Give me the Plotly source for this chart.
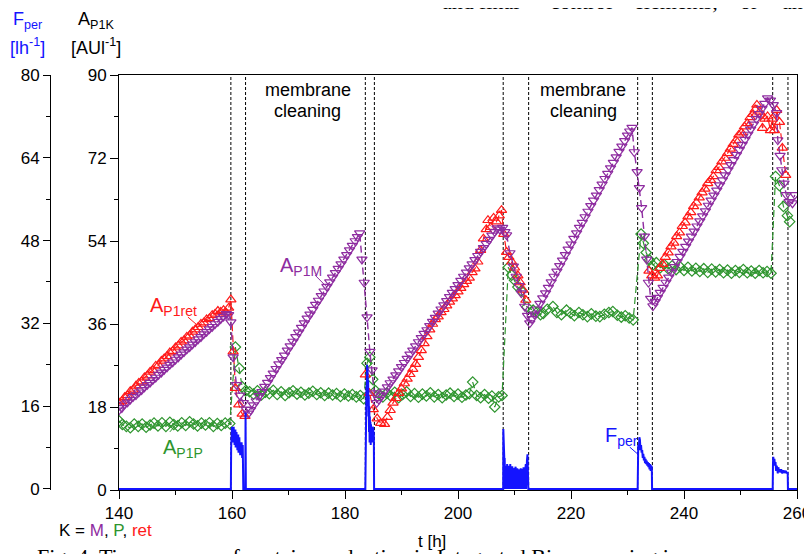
import plotly.graph_objects as go

# ---------------- data ----------------
# A_P1M (membrane), purple, inverted triangles
t_M = [140.0, 140.5, 141.0, 141.5, 142.0, 142.5, 143.0, 143.5, 144.0, 144.5, 145.0, 145.5, 146.0, 146.5,
       147.0, 147.5, 148.0, 148.5, 149.0, 149.5, 150.0, 150.5, 151.0, 151.5, 152.0, 152.5, 153.0, 153.5,
       154.0, 154.5, 155.0, 155.5, 156.0, 156.5, 157.0, 157.5, 158.0, 158.5, 159.0, 159.4, 159.8, 160.2,
       160.8, 161.4, 162.0, 162.5, 162.9,
       163.3, 163.8, 164.3, 164.8, 165.3, 165.8, 166.3, 166.8, 167.3, 167.8, 168.3, 168.8, 169.3, 169.8,
       170.3, 170.8, 171.3, 171.8, 172.3, 172.8, 173.3, 173.8, 174.3, 174.8, 175.3, 175.8, 176.3, 176.8,
       177.3, 177.8, 178.3, 178.8, 179.3, 179.8, 180.3, 180.8, 181.3, 181.8, 182.2, 182.6, 183.0, 183.4,
       183.9, 184.4, 184.8, 185.2, 185.6,
       186.0, 186.5, 187.0, 187.5, 188.0, 188.5, 189.0, 189.5, 190.0, 190.5, 191.0, 191.5, 192.0, 192.5,
       193.0, 193.5, 194.0, 194.5, 195.0, 195.5, 196.0, 196.5, 197.0, 197.5, 198.0, 198.5, 199.0, 199.5,
       200.0, 200.5, 201.0, 201.5, 202.0, 202.5, 203.0, 203.5, 204.0, 204.5, 205.0, 205.5, 206.0, 206.5,
       206.9, 207.4, 207.9, 208.3, 208.6, 209.2, 209.8, 210.3, 210.8, 211.2, 211.8, 212.3, 212.7,
       213.1, 213.5, 214.0, 214.5, 215.0, 215.5, 216.0, 216.5, 217.0, 217.5, 218.0, 218.5, 219.0, 219.5,
       220.0, 220.5, 221.0, 221.5, 222.0, 222.5, 223.0, 223.5, 224.0, 224.5, 225.0, 225.5, 226.0, 226.5,
       227.0, 227.5, 228.0, 228.5, 229.0, 229.5, 230.0, 230.4, 230.8, 231.2, 231.7, 232.1, 232.5, 233.0,
       233.4, 233.7, 234.1, 234.5,
       234.9, 235.3, 235.8, 236.3, 236.8, 237.3, 237.8, 238.3, 238.8, 239.3, 239.8, 240.3, 240.8, 241.3,
       241.8, 242.3, 242.8, 243.3, 243.8, 244.3, 244.8, 245.3, 245.8, 246.3, 246.8, 247.3, 247.8, 248.3,
       248.8, 249.3, 249.8, 250.3, 250.8, 251.3, 251.8, 252.3, 252.8, 253.3, 253.8, 254.3, 254.8, 255.3,
       255.8, 256.4, 256.6, 257.0, 257.3, 257.7, 258.1, 258.6, 259.2, 259.6]
A_M = [17.3, 17.8, 18.6, 19.0, 19.6, 20.2, 20.6, 21.2, 21.7, 22.3, 22.8, 23.3, 23.9, 24.4,
       25.0, 25.5, 26.1, 26.6, 27.2, 27.7, 28.3, 28.8, 29.4, 29.9, 30.5, 31.0, 31.6, 32.1,
       32.7, 33.2, 33.8, 34.3, 34.9, 35.4, 36.0, 36.5, 37.1, 37.6, 38.2, 38.0, 36.4, 28.8,
       22.8, 20.5, 18.9, 17.5, 16.6,
       17.4, 18.4, 19.3, 20.4, 21.3, 22.4, 23.3, 24.3, 25.3, 26.3, 27.3, 28.2, 29.2, 30.3,
       31.2, 32.2, 33.2, 34.2, 35.2, 36.2, 37.2, 38.1, 39.1, 40.2, 41.1, 42.1, 43.1, 44.1,
       45.1, 46.1, 47.1, 48.0, 49.0, 50.0, 51.0, 52.0, 53.0, 54.0, 54.9, 55.7, 50.0, 45.0,
       37.5, 30.0, 26.0, 21.0, 18.9,
       19.6, 20.5, 21.4, 22.3, 23.2, 24.0, 24.9, 25.8, 26.7, 27.6, 28.5, 29.4, 30.3, 31.2,
       32.1, 33.0, 33.9, 34.7, 35.6, 36.5, 37.4, 38.3, 39.2, 40.1, 41.0, 41.9, 42.8, 43.6,
       44.5, 45.4, 46.3, 47.2, 48.1, 49.0, 49.9, 50.8, 51.7, 52.5, 53.4, 54.3, 55.2, 56.0,
       56.8, 56.5, 56.9, 56.0, 55.3, 51.4, 48.5, 46.3, 44.3, 42.7, 39.8, 37.8, 36.2,
       37.1, 38.1, 39.2, 40.4, 41.6, 42.7, 43.9, 45.1, 46.3, 47.4, 48.6, 49.8, 51.0, 52.2,
       53.3, 54.5, 55.7, 56.9, 58.0, 59.2, 60.4, 61.6, 62.8, 63.9, 65.1, 66.3, 67.5, 68.6,
       69.8, 71.0, 72.2, 73.4, 74.5, 75.7, 76.9, 77.8, 78.6, 73.3, 69.0, 65.5, 61.2, 55.0,
       50.0, 45.0, 41.5, 39.9,
       40.8, 41.7, 42.8, 43.9, 45.0, 46.1, 47.2, 48.4, 49.5, 50.6, 51.7, 52.8, 53.9, 55.0,
       56.1, 57.2, 58.3, 59.4, 60.5, 61.7, 62.8, 63.9, 65.0, 66.1, 67.2, 68.3, 69.4, 70.5,
       71.6, 72.7, 73.8, 74.9, 76.0, 77.1, 78.2, 79.3, 80.5, 81.6, 82.7, 83.8, 85.0, 84.5,
       83.5, 81.8, 75.9, 72.5, 69.4, 66.5, 64.0, 62.5, 62.2, 64.0]

# A_P1ret (retentate), red, triangles (None = no measurement)
t_ret = [140.0, 140.5, 141.0, 141.5, 142.0, 142.5, 143.0, 143.5, 144.0, 144.5, 145.0, 145.5, 146.0, 146.5,
         147.0, 147.5, 148.0, 148.5, 149.0, 149.5, 150.0, 150.5, 151.0, 151.5, 152.0, 152.5, 153.0, 153.5,
         154.0, 154.5, 155.0, 155.5, 156.0, 156.5, 157.0, 157.5, 158.0, 158.5, 159.0, 159.4, 159.8, 160.2,
         160.6, 161.2, 161.8, 162.3, 173.0,
         183.6, 184.3, 185.0, 185.7, 186.3, 187.0, 187.5, 188.0, 188.5, 189.0, 189.5, 190.0, 190.5, 191.0,
         191.5, 192.0, 192.5, 193.0, 193.5, 194.0, 194.5, 195.0, 195.5, 196.0, 196.5, 197.0, 197.5, 198.0,
         198.5, 199.0, 199.5, 200.0, 200.5, 201.0, 201.5, 202.0, 202.5, 203.0, 203.5, 204.0, 204.5, 205.0,
         205.3, 205.8, 206.3, 206.8, 207.3, 207.7, 208.1, 208.6, 209.0, 209.5, 210.0, 210.6, 211.0, 211.5,
         212.0, 222.0,
         233.8, 234.3, 234.8, 235.3, 235.7, 236.2, 236.7, 237.2, 237.7, 238.2, 238.7, 239.2, 239.7, 240.2,
         240.7, 241.2, 241.7, 242.2, 242.7, 243.2, 243.7, 244.2, 244.7, 245.2, 245.7, 246.2, 246.7, 247.2,
         247.7, 248.2, 248.7, 249.2, 249.7, 250.2, 250.7, 251.2, 251.7, 252.2, 252.6, 252.9, 253.4, 253.9,
         254.3, 254.8, 255.3, 255.6, 256.0, 256.4, 256.9, 257.4, 258.0]
A_ret = [18.9, 19.2, 20.1, 20.5, 21.4, 21.7, 22.6, 23.2, 23.5, 24.4, 24.8, 25.6, 26.0, 26.9,
         27.1, 28.0, 28.5, 29.0, 29.8, 30.1, 30.9, 31.3, 32.1, 32.4, 33.2, 33.5, 34.3, 34.8,
         35.3, 36.0, 36.3, 37.0, 37.2, 37.9, 38.2, 38.8, 38.6, 39.0, 38.4, 39.5, 41.3, 30.0,
         22.1, 18.5, 16.5, 16.0, None,
         25.0, 21.0, 17.5, 15.5, 14.5, 14.3, 15.8, 17.3, 18.9, 19.9, 21.0, 22.0, 23.1, 24.1,
         25.1, 26.2, 27.3, 28.8, 30.3, 31.8, 33.3, 34.8, 36.0, 37.0, 37.6, 38.5, 39.2, 40.0,
         40.8, 41.5, 42.2, 43.0, 43.8, 44.6, 45.3, 46.0, 47.2, 48.0, 49.5, 52.0, 54.5, 56.5,
         58.5, 57.0, 59.0, 58.2, 59.5, 60.7, 55.5, 51.6, 50.5, 49.5, 48.2, 46.5, 45.0, 43.4,
         41.2, None,
         47.5, 46.5, 46.0, 46.5, 48.1, 49.0, 50.5, 51.5, 52.8, 53.6, 55.0, 55.8, 57.2, 58.0,
         59.3, 60.2, 61.5, 62.3, 63.4, 64.5, 65.3, 66.5, 67.2, 68.0, 69.3, 70.0, 71.2, 72.0,
         73.0, 74.0, 75.0, 75.8, 77.0, 77.5, 78.8, 79.5, 80.8, 81.5, 82.5, 83.5, 82.0, 78.5,
         80.5, 81.0, 78.0, 80.5, 78.0, 82.4, 79.8, 74.2, 68.3]

# A_P1P (permeate), green, diamonds
t_P = [140.0, 140.6, 141.3, 142.0, 142.7, 143.4, 144.1, 144.8, 145.5, 146.2, 146.9, 147.6, 148.3, 149.0,
       149.7, 150.4, 151.1, 151.8, 152.5, 153.2, 153.9, 154.6, 155.3, 156.0, 156.7, 157.4, 158.1, 158.8,
       159.6, 160.6, 161.3, 161.8, 162.4, 163.1,
       163.8, 164.5, 165.2, 165.9, 166.6, 167.3, 168.0, 168.7, 169.4, 170.1, 170.8, 171.5, 172.2, 172.9,
       173.6, 174.3, 175.0, 175.7, 176.4, 177.1, 177.8, 178.5, 179.2, 179.9, 180.6, 181.3, 182.0, 182.7,
       183.3, 183.9, 184.4, 184.9, 185.4,
       186.0, 186.7, 187.4, 188.1, 188.8, 189.5, 190.2, 190.9, 191.6, 192.3, 193.0, 193.7, 194.4, 195.1,
       195.8, 196.5, 197.2, 197.9, 198.6, 199.3, 200.0, 200.7, 201.4, 202.0, 202.6, 203.3, 204.0, 204.7,
       205.4, 206.0, 206.5, 207.2, 207.8,
       208.9, 209.5, 210.0, 210.6, 211.2, 212.2, 213.3, 214.0, 214.6, 215.1, 215.8, 216.8, 217.5, 218.3,
       219.2, 219.9, 220.6, 221.4, 222.1, 222.9, 223.6, 224.4, 225.1, 225.9, 226.7, 227.4, 228.2, 228.9,
       229.6, 230.3, 231.0,
       232.4, 232.8, 233.3, 233.9, 234.5, 235.1, 235.8, 236.5, 237.2, 237.9, 238.6, 239.3, 240.0, 240.7,
       241.4, 242.1, 242.8, 243.5, 244.2, 244.9, 245.6, 246.3, 247.0, 247.7, 248.4, 249.1, 249.8, 250.5,
       251.2, 251.9, 252.6, 253.3, 254.0, 254.7, 255.4, 256.2, 256.9, 257.6, 258.3, 258.7]
A_P = [15.0, 14.2, 13.8, 13.5, 14.3, 13.8, 14.3, 13.6, 14.1, 14.5, 13.9, 14.6, 13.8, 14.7,
       14.2, 13.9, 14.6, 14.0, 14.8, 14.3, 13.9, 14.5, 14.1, 14.6, 13.8, 14.4, 14.0, 14.5,
       14.4, 31.0, 26.4, 22.4, 21.5, 21.3,
       20.8, 21.5, 20.6, 21.2, 20.9, 21.6, 20.7, 21.3, 20.5, 21.1, 21.5, 20.8, 21.2, 20.6,
       21.0, 21.4, 20.7, 21.1, 20.5, 21.0, 20.6, 20.9, 20.3, 20.8, 20.4, 20.7, 20.2, 20.5,
       19.8, 27.5, 28.8, 24.0, 21.5,
       20.8, 20.2, 21.0, 20.4, 21.2, 20.0, 20.7, 21.3, 20.3, 20.9, 20.1, 20.8, 20.4, 21.1,
       20.2, 20.7, 20.0, 20.6, 21.0, 20.3, 20.8, 20.1, 20.6, 20.9, 23.4, 20.5, 20.0, 20.7,
       19.9, 20.4, 18.0, 20.2, 20.5,
       48.3, 46.6, 45.5, 44.0, 43.2, 39.7, 39.0, 38.6, 38.0, 38.3, 39.2, 39.8, 38.5, 38.0,
       39.0, 38.4, 37.8, 38.5, 38.0, 37.6, 38.2, 37.7, 37.6, 38.1, 38.5, 38.7, 37.9, 37.5,
       37.8, 37.3, 36.9,
       55.5, 53.5, 51.5, 49.9, 48.8, 49.3, 48.2, 48.9, 48.0, 48.6, 47.8, 48.4, 47.6, 48.3,
       47.5, 48.1, 47.4, 48.0, 47.2, 47.9, 47.3, 47.8, 47.1, 47.7, 47.0, 47.6, 47.2, 47.8,
       47.1, 47.5, 47.0, 47.6, 47.1, 47.4, 47.0, 68.0, 66.0, 61.5, 59.5, 58.2]

# F_per (permeate flux), blue line, right-hand scale 0..80
t_F = [140.0, 159.8, 159.85, 159.9, 159.95, 160.0, 160.05, 160.1, 160.15, 160.2, 160.25, 160.3, 160.35,
       160.4, 160.45, 160.5, 160.55, 160.6, 160.65, 160.7, 160.75, 160.8, 160.85, 160.9, 160.95, 161.0,
       161.05, 161.1, 161.15, 161.2, 161.25, 161.3, 161.35, 161.4, 161.45, 161.5, 161.6, 161.7, 161.8,
       161.9, 162.0, 162.35, 162.4, 162.45,
       183.6, 183.65, 183.7, 183.75, 183.8, 183.85, 183.9, 183.95, 184.0, 184.05, 184.1, 184.15, 184.2,
       184.25, 184.3, 184.35, 184.4, 184.45, 184.5, 184.55, 184.6, 184.65, 184.7, 184.75, 184.8, 184.85,
       184.9, 184.95, 185.0, 185.05, 185.1, 185.15,
       208.0, 208.02, 208.06, 208.1, 208.14, 208.18, 208.22, 208.26, 208.3, 208.34, 208.38, 208.45, 208.5,
       208.55, 208.6, 208.7, 208.75, 208.8, 208.85, 208.95, 209.05, 209.1, 209.15, 209.25, 209.3, 209.35,
       209.4, 209.5, 209.6, 209.65, 209.7, 209.8, 209.9, 209.95, 210.0, 210.1, 210.2, 210.25, 210.3,
       210.4, 210.5, 210.55, 210.6, 210.7, 210.8, 210.85, 210.9, 211.0, 211.1, 211.15, 211.2, 211.3,
       211.4, 211.45, 211.5, 211.6, 211.7, 211.75, 211.8, 211.9, 212.0, 212.05, 212.1, 212.2, 212.3,
       212.35, 212.4, 212.45,
       231.8, 231.85, 231.9, 232.0, 232.1, 232.15, 232.2, 232.3, 232.4, 232.5, 232.6, 232.7, 232.8,
       232.9, 233.0, 233.1, 233.2, 233.3, 233.4, 233.5, 233.6, 233.7, 233.8, 233.9, 234.0, 234.1, 234.2,
       234.3, 234.35,
       255.7, 255.75, 255.8, 255.9, 256.0, 256.1, 256.2, 256.3, 256.4, 256.5, 256.6, 256.7, 256.8, 256.9,
       257.0, 257.2, 257.4, 257.6, 257.8, 258.0, 258.2, 258.35, 258.4, 260.0]
F_per = [0, 0, 8.0, 11.5, 9.5, 12.0, 10.0, 11.8, 9.0, 11.0, 10.2, 12.0, 9.5,
         11.0, 8.5, 10.5, 9.0, 11.5, 8.0, 10.0, 9.5, 11.0, 8.5, 10.0, 7.5, 9.5,
         8.0, 10.5, 7.0, 9.0, 8.0, 10.0, 7.5, 9.0, 6.5, 8.5, 7.0, 9.0, 6.0,
         8.5, 0, 0, 14.8, 0,
         0, 9.0, 16.0, 12.0, 20.0, 17.0, 24.0, 19.0, 23.0, 16.0, 21.0, 14.0, 18.0,
         11.0, 16.0, 9.0, 14.0, 10.0, 13.0, 8.5, 12.5, 10.0, 12.0, 9.0, 11.5, 10.0,
         12.0, 10.5, 11.6, 10.0, 11.0, 0,
         0, 11.6, 9.0, 10.5, 7.0, 8.0, 5.0, 6.0, 4.0, 0, 4.5, 3.5, 4.2,
         0, 3.8, 4.8, 3.2, 0, 4.0, 3.5, 4.5, 0, 3.8, 4.8, 3.0, 0,
         4.2, 3.6, 4.4, 0, 3.5, 4.0, 3.2, 0, 4.1, 3.4, 4.3, 0, 3.6,
         3.1, 4.0, 0, 3.3, 3.8, 3.0, 0, 3.7, 3.2, 4.0, 0, 3.5, 3.0,
         3.9, 0, 3.4, 4.2, 3.3, 0, 4.0, 3.6, 4.8, 0, 4.5, 5.5, 6.7,
         4.0, 5.8, 0,
         0, 7.0, 8.5, 7.5, 10.0, 8.0, 9.5, 7.5, 8.5, 7.0, 7.5, 6.0, 6.8,
         5.5, 6.2, 5.0, 5.8, 4.8, 5.5, 4.5, 5.2, 4.2, 5.0, 3.8, 4.8, 3.5, 4.5,
         4.2, 0,
         0, 5.0, 6.2, 5.0, 5.8, 4.5, 5.2, 3.5, 4.5, 4.0, 3.0, 4.2, 3.5, 3.8,
         3.2, 3.8, 3.0, 3.6, 3.1, 3.5, 3.0, 3.3, 0, 0]

cleaning_marks = [159.8, 162.4, 183.6, 185.2, 208.0, 212.5, 231.8, 234.4, 255.7, 258.4]
x_ticks = [140, 160, 180, 200, 220, 240, 260]
a_ticks = [0, 18, 36, 54, 72, 90]
f_ticks = [0, 16, 32, 48, 64, 80]

# words of the surrounding page text (cropped at the top), with their left edges on the page
page_words = ["and", "final", "control", "elements,", "or", "an"]
page_word_x = [440, 477, 548, 632, 738, 780]

# ---------------- style ----------------
PURPLE = "#8E2CA0"
RED = "#FF1A1A"
GREEN = "#2E952E"
BLUE = "#1414FF"
FONT = "Liberation Sans, Arial, sans-serif"
SERIF = "Liberation Serif, Times New Roman, serif"

W, H = 812, 554
OFF = 8                       # page body margin offset in the screenshot
ML = 50 - OFF                 # F-axis line at x=50 on the page
MT = 75 - OFF                 # plot top at y=75
MR = W - (797 - OFF)          # plot right at x=797
MB = H - (490 - OFF)          # plot bottom at y=490
PW = W - ML - MR
PH = H - MT - MB


def px(xp):
    return (xp - OFF - ML) / PW


def py(yp):
    return (H - MB - (yp - OFF)) / PH


fig = go.Figure()

for xv in cleaning_marks:
    fig.add_shape(type="line", x0=xv, x1=xv, y0=0, y1=1, xref="x", yref="paper",
                  line=dict(color="black", width=1, dash="3px,2px"), layer="below")

fig.add_trace(go.Scatter(x=t_P, y=A_P, mode="lines+markers", name="A_P1P",
                         line=dict(color=GREEN, width=1.2, dash="7px,4px"),
                         marker=dict(symbol="diamond-open", size=8, color=GREEN, line=dict(width=1.2))))
fig.add_trace(go.Scatter(x=t_ret, y=A_ret, mode="lines+markers", name="A_P1ret", connectgaps=False,
                         line=dict(color=RED, width=1.2, dash="7px,4px"),
                         marker=dict(symbol="triangle-up-open", size=9, color=RED, line=dict(width=1.2))))
fig.add_trace(go.Scatter(x=t_M, y=A_M, mode="lines+markers", name="A_P1M",
                         line=dict(color=PURPLE, width=1.4, dash="7px,4px"),
                         marker=dict(symbol="triangle-down-open", size=9, color=PURPLE, line=dict(width=1.2))))
fig.add_trace(go.Scatter(x=t_F, y=F_per, mode="lines", name="F_per", yaxis="y2",
                         line=dict(color=BLUE, width=2)))

tickfont = dict(family=FONT, size=17, color="black")
fig.update_layout(
    width=W, height=H, autosize=False,
    margin=dict(l=ML, r=MR, t=MT, b=MB, autoexpand=False),
    paper_bgcolor="white", plot_bgcolor="white",
    showlegend=False,
    font=dict(family=FONT, color="black"),
    xaxis=dict(domain=[px(119), 1], range=[140, 260], tickvals=x_ticks, ticks="outside", ticklen=8,
               tickwidth=1, tickcolor="black", showline=True, linecolor="black", linewidth=1,
               mirror=True, showgrid=False, zeroline=False, tickfont=tickfont, automargin=False,
               layer="below traces",
               minor=dict(dtick=10, ticks="outside", ticklen=4, tickcolor="black")),
    yaxis=dict(range=[0, 90], tickvals=a_ticks, ticks="outside", ticklen=8, tickwidth=1,
               tickcolor="black", showline=True, linecolor="black", linewidth=1, mirror=True,
               showgrid=False, zeroline=False, tickfont=tickfont, automargin=False,
               minor=dict(dtick=9, ticks="outside", ticklen=4, tickcolor="black")),
    yaxis2=dict(range=[-0.2, 80], tickvals=f_ticks, overlaying="y", anchor="free", position=0, side="left",
                ticks="outside", ticklen=7, tickwidth=1, tickcolor="black", showline=True,
                linecolor="black", linewidth=1, showgrid=False, zeroline=False, tickfont=tickfont,
                automargin=False,
                minor=dict(dtick=8, ticks="outside", ticklen=4, tickcolor="black")),
)

ann = []


def page_text(text, xp, yp, size, color="black", xanchor="center", family=FONT):
    ann.append(dict(text=text, x=px(xp), y=py(yp), xref="paper", yref="paper",
                    xanchor=xanchor, yanchor="middle", showarrow=False,
                    font=dict(size=size, color=color, family=family)))


# axis headers
page_text("F<sub>per</sub>", 27, 21, 18, BLUE)
page_text("[lh<sup>-1</sup>]", 27, 47, 18, BLUE)
page_text("A<sub>P1K</sub>", 96, 21, 18)
page_text("[AUl<sup>-1</sup>]", 96, 47, 18)
# x axis title and key
page_text("t [h]", 432, 541, 17)
page_text(("K = <span style='color:%s'>M</span>, <span style='color:%s'>P</span>, "
           "<span style='color:%s'>ret</span>") % (PURPLE, GREEN, RED), 57, 530, 17, xanchor="left")
# surrounding page text (cropped)
for w, xw in zip(page_words, page_word_x):
    page_text(w, xw, 1, 22, xanchor="left", family=SERIF)
page_text("Fig. 4. Time courses of protein production in Integrated Bioprocessing in",
          35, 556, 22, xanchor="left", family=SERIF)

# cleaning labels
for xc in (173.4, 222.2):
    ann.append(dict(text="membrane", x=xc, y=86.7, xref="x", yref="y", showarrow=False,
                    font=dict(size=18, family=FONT)))
    ann.append(dict(text="cleaning", x=xc, y=82.3, xref="x", yref="y", showarrow=False,
                    font=dict(size=18, family=FONT)))
# series labels
ann.append(dict(text="A<sub>P1ret</sub>", x=145.1, y=39.9, xref="x", yref="y", xanchor="left",
                showarrow=False, font=dict(size=20, color=RED, family=FONT)))
ann.append(dict(text="A<sub>P1M</sub>", x=168.1, y=48.4, xref="x", yref="y", xanchor="left",
                showarrow=False, font=dict(size=20, color=PURPLE, family=FONT)))
ann.append(dict(text="A<sub>P1P</sub>", x=147.5, y=8.9, xref="x", yref="y", xanchor="left",
                showarrow=False, font=dict(size=20, color=GREEN, family=FONT)))
ann.append(dict(text="F<sub>per</sub>", x=225.6, y=11.6, xref="x", yref="y", xanchor="left",
                showarrow=False, font=dict(size=20, color=BLUE, family=FONT)))
fig.update_layout(annotations=ann)

# leader lines for series labels
leaders = [((152.2, 37.5), (153.8, 35.8), RED), ((174.7, 46.6), (176.8, 44.0), PURPLE),
           ((149.0, 12.6), (150.8, 15.2), GREEN), ((230.4, 9.3), (232.0, 7.6), BLUE)]
for (xa, ya), (xb, yb), c in leaders:
    fig.add_shape(type="line", x0=xa, y0=ya, x1=xb, y1=yb, xref="x", yref="y",
                  line=dict(color=c, width=1))

fig.write_html("out.html")
